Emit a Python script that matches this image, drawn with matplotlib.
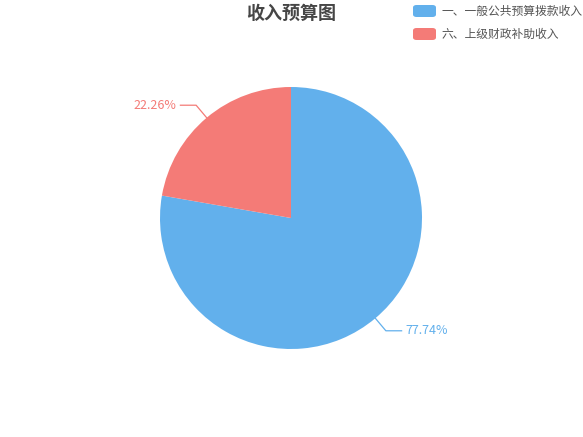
import numpy as np
import matplotlib.pyplot as plt
from matplotlib.patches import FancyBboxPatch

plt.rcParams['font.family'] = ['Noto Sans CJK SC', 'DejaVu Sans']

# === Data ===
title = "收入预算图"
categories = ["一、一般公共预算拨款收入", "六、上级财政补助收入"]
shares = [77.74, 22.26]
colors = ["#62b0ec", "#f47b77"]

W, H = 583, 437
fig = plt.figure(figsize=(W / 100, H / 100), dpi=100)

# pie axes: centre (291, 218) px, radius 131 px
cx, cy, r = 291, 218, 131
ax = fig.add_axes([(cx - r) / W, 1 - (cy + r) / H, 2 * r / W, 2 * r / H])
wedges, _ = ax.pie(shares, colors=colors, startangle=90, counterclock=False,
                   wedgeprops=dict(linewidth=0))
ax.set_xlim(-1, 1)
ax.set_ylim(-1, 1)
ax.set_aspect("equal")
ax.axis("off")

# === Labels with leader lines ===
for w, val, col in zip(wedges, shares, colors):
    mid = np.deg2rad((w.theta1 + w.theta2) / 2)
    x0, y0 = np.cos(mid), np.sin(mid)
    x1, y1 = 1.125 * x0, 1.125 * y0
    side = 1 if x0 >= 0 else -1
    x2 = x1 + side * 0.12
    ax.plot([x0, x1, x2], [y0, y1, y1], color=col, lw=0.9, clip_on=False)
    ax.text(x2 + side * 0.03, y1, f"{val:.2f}%", color=col, fontsize=9,
            ha="left" if side > 0 else "right", va="center", clip_on=False)

# === Title ===
fig.text(cx / W, 1 - 13 / H, title, ha="center", va="center",
         fontsize=13, fontweight="bold", color="#464646")

# === Legend ===
for i, (lab, col) in enumerate(zip(categories, colors)):
    y = 11 + i * 23
    box = FancyBboxPatch((413 / W, 1 - (y + 6) / H), 23 / W, 12 / H,
                         boxstyle="round,pad=0,rounding_size=0.006",
                         transform=fig.transFigure, facecolor=col, edgecolor="none")
    fig.patches.append(box)
    fig.text(442 / W, 1 - y / H, lab, ha="left", va="center",
             fontsize=8.5, color="#555555")

fig.savefig("out.png", dpi=100)
